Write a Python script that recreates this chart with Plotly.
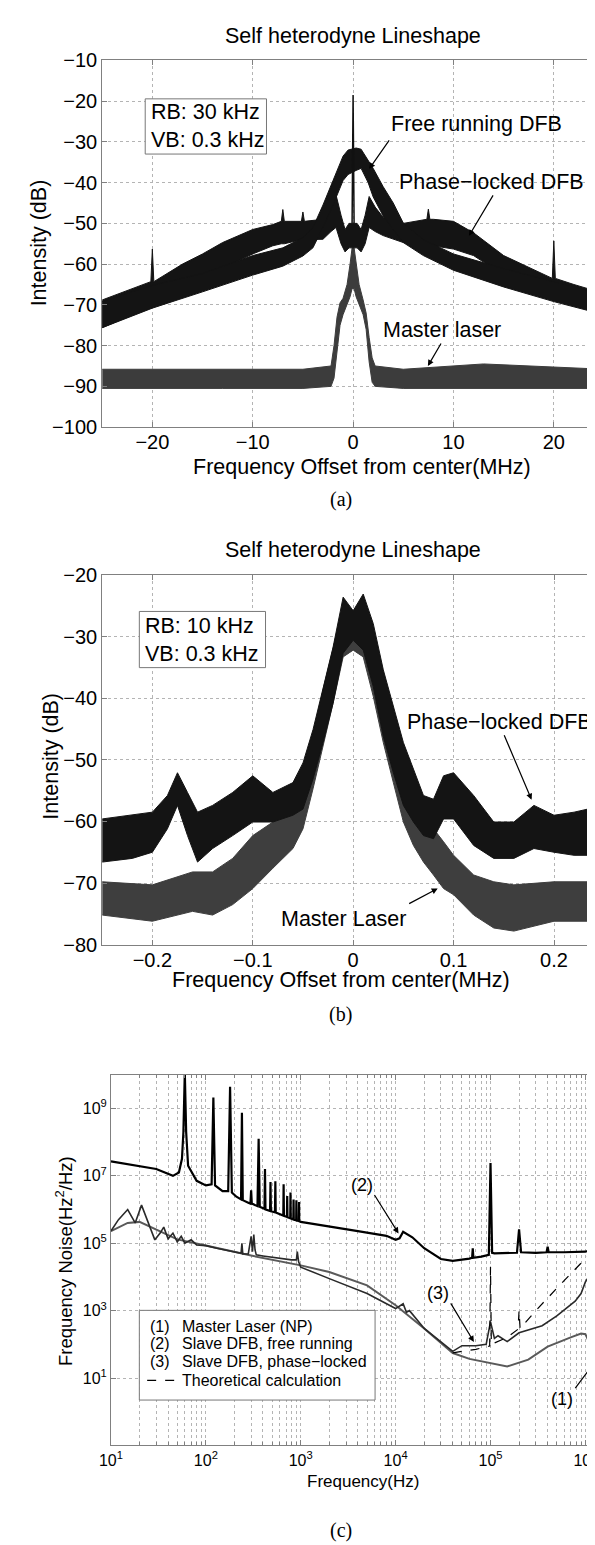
import plotly.graph_objects as go

W, H = 595, 1545
FONT = "Liberation Sans, Arial, sans-serif"
SERIF = "Liberation Serif, Times New Roman, serif"

# ---------------- Panel (a): Self heterodyne lineshape, RB 30 kHz -------------
a_fr_x = [-25, -20, -15, -10, -7, -5, -4, -3, -2, -1, -0.5, 0.3, 0.8, 1.5, 2, 3, 4, 5, 7, 10, 15, 20, 25]
a_fr_hi = [-69.2, -65.2, -62.3, -57.9, -56.0, -53.5, -51.0, -45.5, -39.5, -33.5, -32.0, -31.5, -31.8, -34.5, -36.5,
           -41.0, -45.0, -49.9, -54.0, -57.5, -61.1, -64.3, -67.6]
a_fr_lo = [-75.6, -70.8, -66.8, -62.7, -60.5, -58.0, -56.0, -51.0, -45.5, -39.5, -38.0, -37.0, -36.5, -40.0, -43.5,
           -48.2, -51.5, -54.7, -57.9, -61.5, -65.6, -69.2, -72.4]

a_pl_x = [-25, -20.15, -20, -19.85, -17, -15, -13, -10, -8, -7.15, -7, -6.85, -5.15, -5, -4.85, -3, -2.2, -1.7,
          -1.2, -0.8, -0.4, 0.4, 0.8, 1.2, 1.6, 2.2, 3, 5, 7.35, 7.5, 7.65, 8, 10, 12, 15, 19.85, 20, 20.15, 22, 25]
a_pl_hi = [-68.8, -64.3, -56.3, -64.3, -60.0, -57.5, -54.7, -51.5, -50.3, -49.5, -46.6, -49.5, -49.5, -47.2, -49.5,
           -49.0, -46.0, -43.0, -48.0, -51.5, -50.0, -50.0, -51.5, -48.0, -43.4, -46.0, -48.5, -50.0, -49.0, -46.5,
           -49.0, -49.0, -49.5, -52.3, -57.9, -63.5, -54.3, -63.5, -65.0, -67.2]
a_pl_lo = [-75.6, -70.5, -70.5, -70.5, -67.0, -64.5, -61.0, -57.5, -55.5, -55.0, -55.0, -55.0, -54.0, -54.0, -54.0,
           -53.9, -52.0, -51.0, -55.0, -57.0, -56.0, -56.0, -57.0, -55.0, -51.0, -52.0, -53.0, -54.7, -55.3, -55.3,
           -55.3, -55.5, -56.3, -57.9, -62.7, -67.6, -67.6, -67.6, -69.5, -72.4]

a_ml_x = [-25, -13, -5, -2.2, -1.9, -1.6, -1.3, -1.0, -0.6, -0.3, -0.1, 0.1, 0.3, 0.6, 1.0, 1.3, 1.6, 1.9, 2.2, 5, 13, 25]
a_ml_hi = [-85.8, -85.8, -85.8, -85.0, -80.0, -73.0, -69.5, -68.4, -65.0, -60.0, -56.0, -56.0, -60.0, -65.0, -68.8,
           -72.0, -78.0, -83.0, -85.0, -85.8, -84.5, -85.8]
a_ml_lo = [-90.5, -90.5, -90.5, -90.0, -88.0, -82.0, -75.0, -72.4, -70.0, -68.0, -66.0, -66.0, -68.0, -70.0, -72.4,
           -76.0, -84.0, -89.0, -90.0, -90.5, -90.5, -90.5]

a_sp_x = [-0.1, 0.0, 0.1]
a_sp_y = [-50.0, -18.5, -50.0]

a_xticks = [-20, -10, 0, 10, 20]

# ---------------- Panel (b): RB 10 kHz ----------------------------------------
b_pl_x = [-0.25, -0.22, -0.2, -0.185, -0.175, -0.165, -0.155, -0.14, -0.12, -0.1, -0.08, -0.06, -0.05, -0.04,
          -0.03, -0.02, -0.01, 0, 0.01, 0.02, 0.03, 0.04, 0.05, 0.06, 0.07, 0.08, 0.09, 0.1, 0.12, 0.14, 0.16,
          0.18, 0.2, 0.22, 0.25]
b_pl_hi = [-59.6, -59.0, -58.5, -55.8, -52.1, -55.3, -58.5, -57.4, -55.3, -52.6, -55.3, -53.7, -50.5, -45.1,
           -38.6, -31.7, -23.6, -25.8, -23.1, -27.9, -35.4, -41.3, -47.2, -51.5, -55.8, -56.4, -52.6, -52.1,
           -55.8, -60.1, -60.1, -57.4, -59.0, -58.5, -57.4]
b_pl_lo = [-66.6, -66.0, -65.0, -61.2, -57.4, -62.3, -66.6, -64.4, -62.3, -60.1, -60.1, -59.0, -58.0, -53.1,
           -47.2, -40.8, -32.7, -30.6, -32.2, -38.1, -46.2, -52.1, -57.4, -60.1, -62.3, -62.8, -59.6, -59.6,
           -63.9, -66.0, -66.0, -64.4, -65.0, -65.5, -65.5]

b_ml_x = [-0.25, -0.2, -0.16, -0.14, -0.12, -0.1, -0.08, -0.06, -0.05, -0.04, -0.03, -0.02, -0.01, 0, 0.01,
          0.02, 0.03, 0.04, 0.05, 0.06, 0.07, 0.08, 0.09, 0.1, 0.12, 0.14, 0.16, 0.2, 0.25]
b_ml_hi = [-69.8, -70.3, -68.2, -68.2, -66.0, -62.3, -60.1, -56.9, -53.1, -46.2, -38.6, -31.7, -25.2, -25.8,
           -24.1, -29.0, -36.0, -42.9, -50.5, -55.8, -58.5, -61.2, -63.3, -65.5, -68.7, -69.8, -70.3, -69.8, -69.8]
b_ml_lo = [-75.2, -76.2, -74.6, -75.2, -73.5, -70.9, -67.6, -64.4, -61.2, -54.7, -47.8, -40.8, -33.3, -32.2,
           -33.3, -39.7, -47.2, -53.7, -60.1, -63.9, -66.6, -68.7, -70.9, -71.9, -75.2, -77.3, -77.8, -76.2, -76.2]

b_xticks = [-0.2, -0.1, 0, 0.1, 0.2]

# ---------------- Panel (c): frequency noise spectra --------------------------
c2_f = [10, 20, 30, 45, 52, 56, 58, 60, 62, 65, 80, 100, 115, 120, 125, 150, 172, 180, 188, 210, 235, 240, 245,
        280, 295, 300, 305, 350, 360, 370, 415, 420, 425, 475, 480, 485, 535, 540, 545, 655, 660, 665, 715, 720,
        725, 775, 780, 785, 835, 840, 845, 895, 900, 905, 955, 960, 965, 1000, 2000, 4000, 8000, 10000, 11000,
        12000, 15000, 20000, 30000, 40000, 60000, 64000, 65000, 66000, 80000, 96000, 100000, 104000, 110000,
        150000, 190000, 200000, 210000, 300000, 390000, 400000, 410000, 600000, 1000000, 1300000, 1550000]
c2_n = [2.7e7, 2.0e7, 1.6e7, 1.0e7, 1.26e7, 3.2e7, 2.0e8, 1.2e10, 2.0e8, 2.0e7, 7.1e6, 5.2e6, 5.6e6, 2.1e9, 5.2e6,
        3.5e6, 3.5e6, 4.4e9, 3.2e6, 2.4e6, 2.0e6, 7.4e8, 1.9e6, 1.6e6, 1.5e6, 3.7e6, 1.5e6, 1.26e6, 1.26e8, 1.2e6,
        1.05e6, 1.6e7, 1.0e6, 9.1e5, 6.6e6, 8.9e5, 8.3e5, 6.9e6, 8.1e5, 6.6e5, 5.6e6, 6.5e5, 6.0e5, 2.5e6, 5.9e5,
        5.5e5, 3.2e6, 5.4e5, 5.1e5, 2.0e6, 5.0e5, 4.8e5, 1.9e6, 4.7e5, 4.6e5, 1.66e6, 4.5e5, 4.3e5, 3.2e5, 2.3e5,
        1.66e5, 1.26e5, 1.4e5, 2.2e5, 1.5e5, 7.1e4, 3.4e4, 3.0e4, 3.5e4, 3.7e4, 7.1e4, 3.7e4, 4.0e4, 4.5e4, 2.4e7,
        5.2e4, 5.0e4, 5.0e4, 5.2e4, 2.6e5, 5.4e4, 5.2e4, 5.4e4, 7.9e4, 5.4e4, 5.4e4, 5.6e4, 7.1e4, 1.15e5]

c3_f = [10, 12, 15, 18, 21, 25, 29, 33, 36, 40, 45, 50, 55, 60, 70, 80, 100, 130, 160, 200, 235, 240, 245, 280,
        290, 300, 310, 320, 330, 340, 400, 500, 600, 800, 900, 920, 950, 1000, 2000, 5000, 10000, 12000, 13000,
        14000, 20000, 30000, 40000, 50000, 70000, 90000, 100000, 110000, 120000, 150000, 200000, 350000, 500000,
        780000, 900000, 1000000, 1200000, 1400000, 1550000]
c3_n = [2.3e5, 5.0e5, 1.0e6, 4.0e5, 1.35e6, 4.0e5, 1.26e5, 2.0e5, 3.0e5, 1.35e5, 2.0e5, 1.1e5, 1.6e5, 1.0e5,
        1.26e5, 8.9e4, 8.5e4, 7.1e4, 6.3e4, 5.4e4, 5.0e4, 1.0e5, 4.8e4, 4.8e4, 7.9e4, 1.6e5, 5.6e4, 1.8e5, 6.3e4,
        4.5e4, 4.2e4, 3.8e4, 3.5e4, 3.2e4, 3.2e4, 5.6e4, 2.8e4, 1.95e4, 8.9e3, 3.2e3, 1.15e3, 1.6e3, 890, 1.0e3,
        295, 120, 62, 91, 91, 100, 470, 150, 180, 120, 220, 355, 700, 1900, 3200, 7100, 1.6e4, 4.0e4, 5.4e4]

c1_f = [10, 15, 20, 30, 50, 100, 300, 1000, 2000, 5000, 10000, 20000, 40000, 60000, 100000, 150000, 250000,
        400000, 700000, 900000, 1000000, 1200000, 1400000, 1550000]
c1_n = [2.3e5, 4.0e5, 4.3e5, 2.5e5, 1.3e5, 8.5e4, 4.3e4, 2.2e4, 1.4e4, 5.6e3, 1.45e3, 295, 55, 37, 28, 22, 35,
        85, 160, 210, 200, 69, 25, 10]

cth_f = [40000, 70000, 98000, 100000, 102000, 150000, 195000, 200000, 205000, 300000, 500000, 1000000, 1550000]
cth_n = [56, 71, 89, 2.0e4, 100, 160, 280, 1000, 295, 1000, 4600, 3.6e4, 1.26e5]

c_xticks = [10, 100, 1000, 10000, 100000, 1000000]
c_xticktext = ["10<sup>1</sup>", "10<sup>2</sup>", "10<sup>3</sup>", "10<sup>4</sup>", "10<sup>5</sup>",
               "10<sup>6</sup>"]
c_yticks = [10, 1e3, 1e5, 1e7, 1e9]
c_yticktext = ["10<sup>1</sup>", "10<sup>3</sup>", "10<sup>5</sup>", "10<sup>7</sup>", "10<sup>9</sup>"]

legend_labels = ["Master Laser (NP)", "Slave DFB, free running", "Slave DFB, phase\u2212locked",
                 "Theoretical calculation"]
legend_tags = ["(1)", "(2)", "(3)", ""]


def px(x):
    return x / W


def py(y):
    return 1 - y / H


def band(x, hi, lo, color, xa, ya):
    return go.Scatter(x=list(x) + list(x)[::-1], y=list(hi) + list(lo)[::-1], fill="toself",
                      fillcolor=color, line=dict(color=color, width=1), mode="lines",
                      xaxis=xa, yaxis=ya, hoverinfo="skip", showlegend=False)


fig = go.Figure()
# panel a
fig.add_trace(band(a_ml_x, a_ml_hi, a_ml_lo, "#3c3c3c", "x", "y"))
fig.add_trace(band(a_pl_x, a_pl_hi, a_pl_lo, "#141414", "x", "y"))
fig.add_trace(band(a_fr_x, a_fr_hi, a_fr_lo, "#141414", "x", "y"))
fig.add_trace(go.Scatter(x=a_sp_x, y=a_sp_y, mode="lines", line=dict(color="#111111", width=1.5),
                         xaxis="x", yaxis="y", showlegend=False))
# panel b
fig.add_trace(band(b_ml_x, b_ml_hi, b_ml_lo, "#3e3e3e", "x2", "y2"))
fig.add_trace(band(b_pl_x, b_pl_hi, b_pl_lo, "#141414", "x2", "y2"))
# panel c
fig.add_trace(go.Scatter(x=c1_f, y=c1_n, mode="lines", line=dict(color="#5a5a5a", width=2),
                         xaxis="x3", yaxis="y3", showlegend=False))
fig.add_trace(go.Scatter(x=c3_f, y=c3_n, mode="lines", line=dict(color="#2a2a2a", width=1.6),
                         xaxis="x3", yaxis="y3", showlegend=False))
fig.add_trace(go.Scatter(x=cth_f, y=cth_n, mode="lines", line=dict(color="#000000", width=1.2, dash="dash"),
                         xaxis="x3", yaxis="y3", showlegend=False))
fig.add_trace(go.Scatter(x=c2_f, y=c2_n, mode="lines", line=dict(color="#000000", width=2.2),
                         xaxis="x3", yaxis="y3", showlegend=False))

GRID = "#b4b4b4"
AXC = "#808080"
common = dict(showgrid=True, gridcolor=GRID, griddash="dot", gridwidth=1, showline=True, linecolor=AXC,
              linewidth=1, mirror="ticks", ticks="inside", ticklen=5, tickcolor=AXC, zeroline=False,
              tickfont=dict(family=FONT, size=20, color="black"))
small = {**common, "tickfont": dict(family=FONT, size=16, color="black")}

minor_vals = [m * 10 ** k for k in range(1, 7) for m in range(2, 10)]

fig.update_layout(
    width=W, height=H, margin=dict(l=0, r=0, t=0, b=0), plot_bgcolor="white", paper_bgcolor="white",
    showlegend=False,
    xaxis=dict(domain=[px(84), 1], anchor="y", range=[-25, 24.8], tickmode="array", tickvals=a_xticks,
               ticklabelstandoff=-3, **common),
    yaxis=dict(domain=[py(414), py(42)], anchor="x", range=[-100, -10], dtick=10, **common),
    xaxis2=dict(domain=[px(84), 1], anchor="y2", range=[-0.25, 0.2478], tickmode="array", tickvals=b_xticks,
                ticklabelstandoff=-3, **common),
    yaxis2=dict(domain=[py(939), py(564)], anchor="x2", range=[-80, -20], dtick=10, **common),
    xaxis3=dict(domain=[px(93), 1], anchor="y3", type="log", range=[1, 6.175], tickmode="array",
                tickvals=c_xticks, ticktext=c_xticktext,
                minor=dict(tickvals=minor_vals, showgrid=True, gridcolor=GRID, griddash="dot", ticks="inside",
                           ticklen=3, tickcolor=AXC),
                **small),
    yaxis3=dict(domain=[py(1447), py(1071)], anchor="x3", type="log", range=[-1, 10], tickmode="array",
                tickvals=c_yticks, ticktext=c_yticktext, **small),
)

ann = []


def text(x, y, s, size=20, family=FONT, xanchor="center", angle=0, align="center"):
    ann.append(dict(x=px(x), y=py(y), xref="paper", yref="paper", text=s, showarrow=False, xanchor=xanchor,
                    yanchor="middle", textangle=angle, align=align,
                    font=dict(family=family, size=size, color="black")))


def arrow(tx, ty, hx, hy):
    ann.append(dict(x=px(hx), y=py(hy), xref="paper", yref="paper", ax=tx - hx, ay=ty - hy, text="",
                    showarrow=True, arrowhead=2, arrowsize=1, arrowwidth=1.2, arrowcolor="black"))


# titles
text(340, 17, "Self heterodyne Lineshape", size=21.5)
text(340, 539, "Self heterodyne Lineshape", size=21.5)
# axis titles
text(350, 454, "Frequency Offset from center(MHz)", size=21.5)
text(328, 975, "Frequency Offset from center(MHz)", size=21.5)
text(351, 1484, "Frequency(Hz)", size=17)
text(19, 227, "Intensity (dB)", size=21.5, angle=-90)
text(32, 748, "Intensity (dB)", size=21.5, angle=-90)
text(45, 1260, "Frequency Noise(Hz<sup>2</sup>/Hz)", size=18.5, angle=-90)
# captions
text(328, 487, "(a)", size=20, family=SERIF)
text(328, 1010, "(b)", size=20, family=SERIF)
text(328, 1533, "(c)", size=20, family=SERIF)

# panel a annotations
text(132, 109, "RB: 30 kHz<br>VB: 0.3 kHz", size=21.5, xanchor="left", align="left")
text(467, 107, "Free running DFB", size=21.5)
arrow(378, 122, 357, 152)
text(482, 165, "Phase\u2212locked DFB", size=21.5)
arrow(484, 178, 459, 220)
text(431, 315, "Master laser", size=21.5)
arrow(431, 328, 417, 352)

# panel b annotations
text(126, 630, "RB: 10 kHz<br>VB: 0.3 kHz", size=21.5, xanchor="left", align="left")
text(490, 713, "Phase\u2212locked DFB", size=21.5)
arrow(495, 726, 523, 792)
text(331, 913, "Master Laser", size=21.5)
arrow(397, 898, 427, 882)

# panel c annotations
text(350, 1183, "(2)", size=18)
arrow(362, 1192, 387, 1232)
text(427, 1292, "(3)", size=18)
arrow(440, 1302, 464, 1342)
text(554, 1400, "(1)", size=18)
arrow(567, 1390, 588, 1362)

# legend rows
row_y = [1326, 1344, 1362, 1381]
for tag, lab, yy in zip(legend_tags, legend_labels, row_y):
    if tag:
        text(131, yy, tag, size=16, xanchor="left")
    text(164, yy, lab, size=16, xanchor="left")

shapes = [
    dict(type="rect", xref="paper", yref="paper", x0=px(128), x1=px(252), y0=py(137), y1=py(81),
         line=dict(color="#777777", width=1), fillcolor="white", layer="above"),
    dict(type="rect", xref="paper", yref="paper", x0=px(122), x1=px(251), y0=py(658), y1=py(601),
         line=dict(color="#777777", width=1), fillcolor="white", layer="above"),
    dict(type="rect", xref="paper", yref="paper", x0=px(122), x1=px(363), y0=py(1401), y1=py(1310),
         line=dict(color="#777777", width=1), fillcolor="white", layer="above"),
    dict(type="line", xref="paper", yref="paper", x0=px(130), x1=px(158), y0=py(1381), y1=py(1381),
         line=dict(color="black", width=1.2, dash="dash"), layer="above"),
]

fig.update_layout(annotations=ann, shapes=shapes)
fig.write_html("out.html")
